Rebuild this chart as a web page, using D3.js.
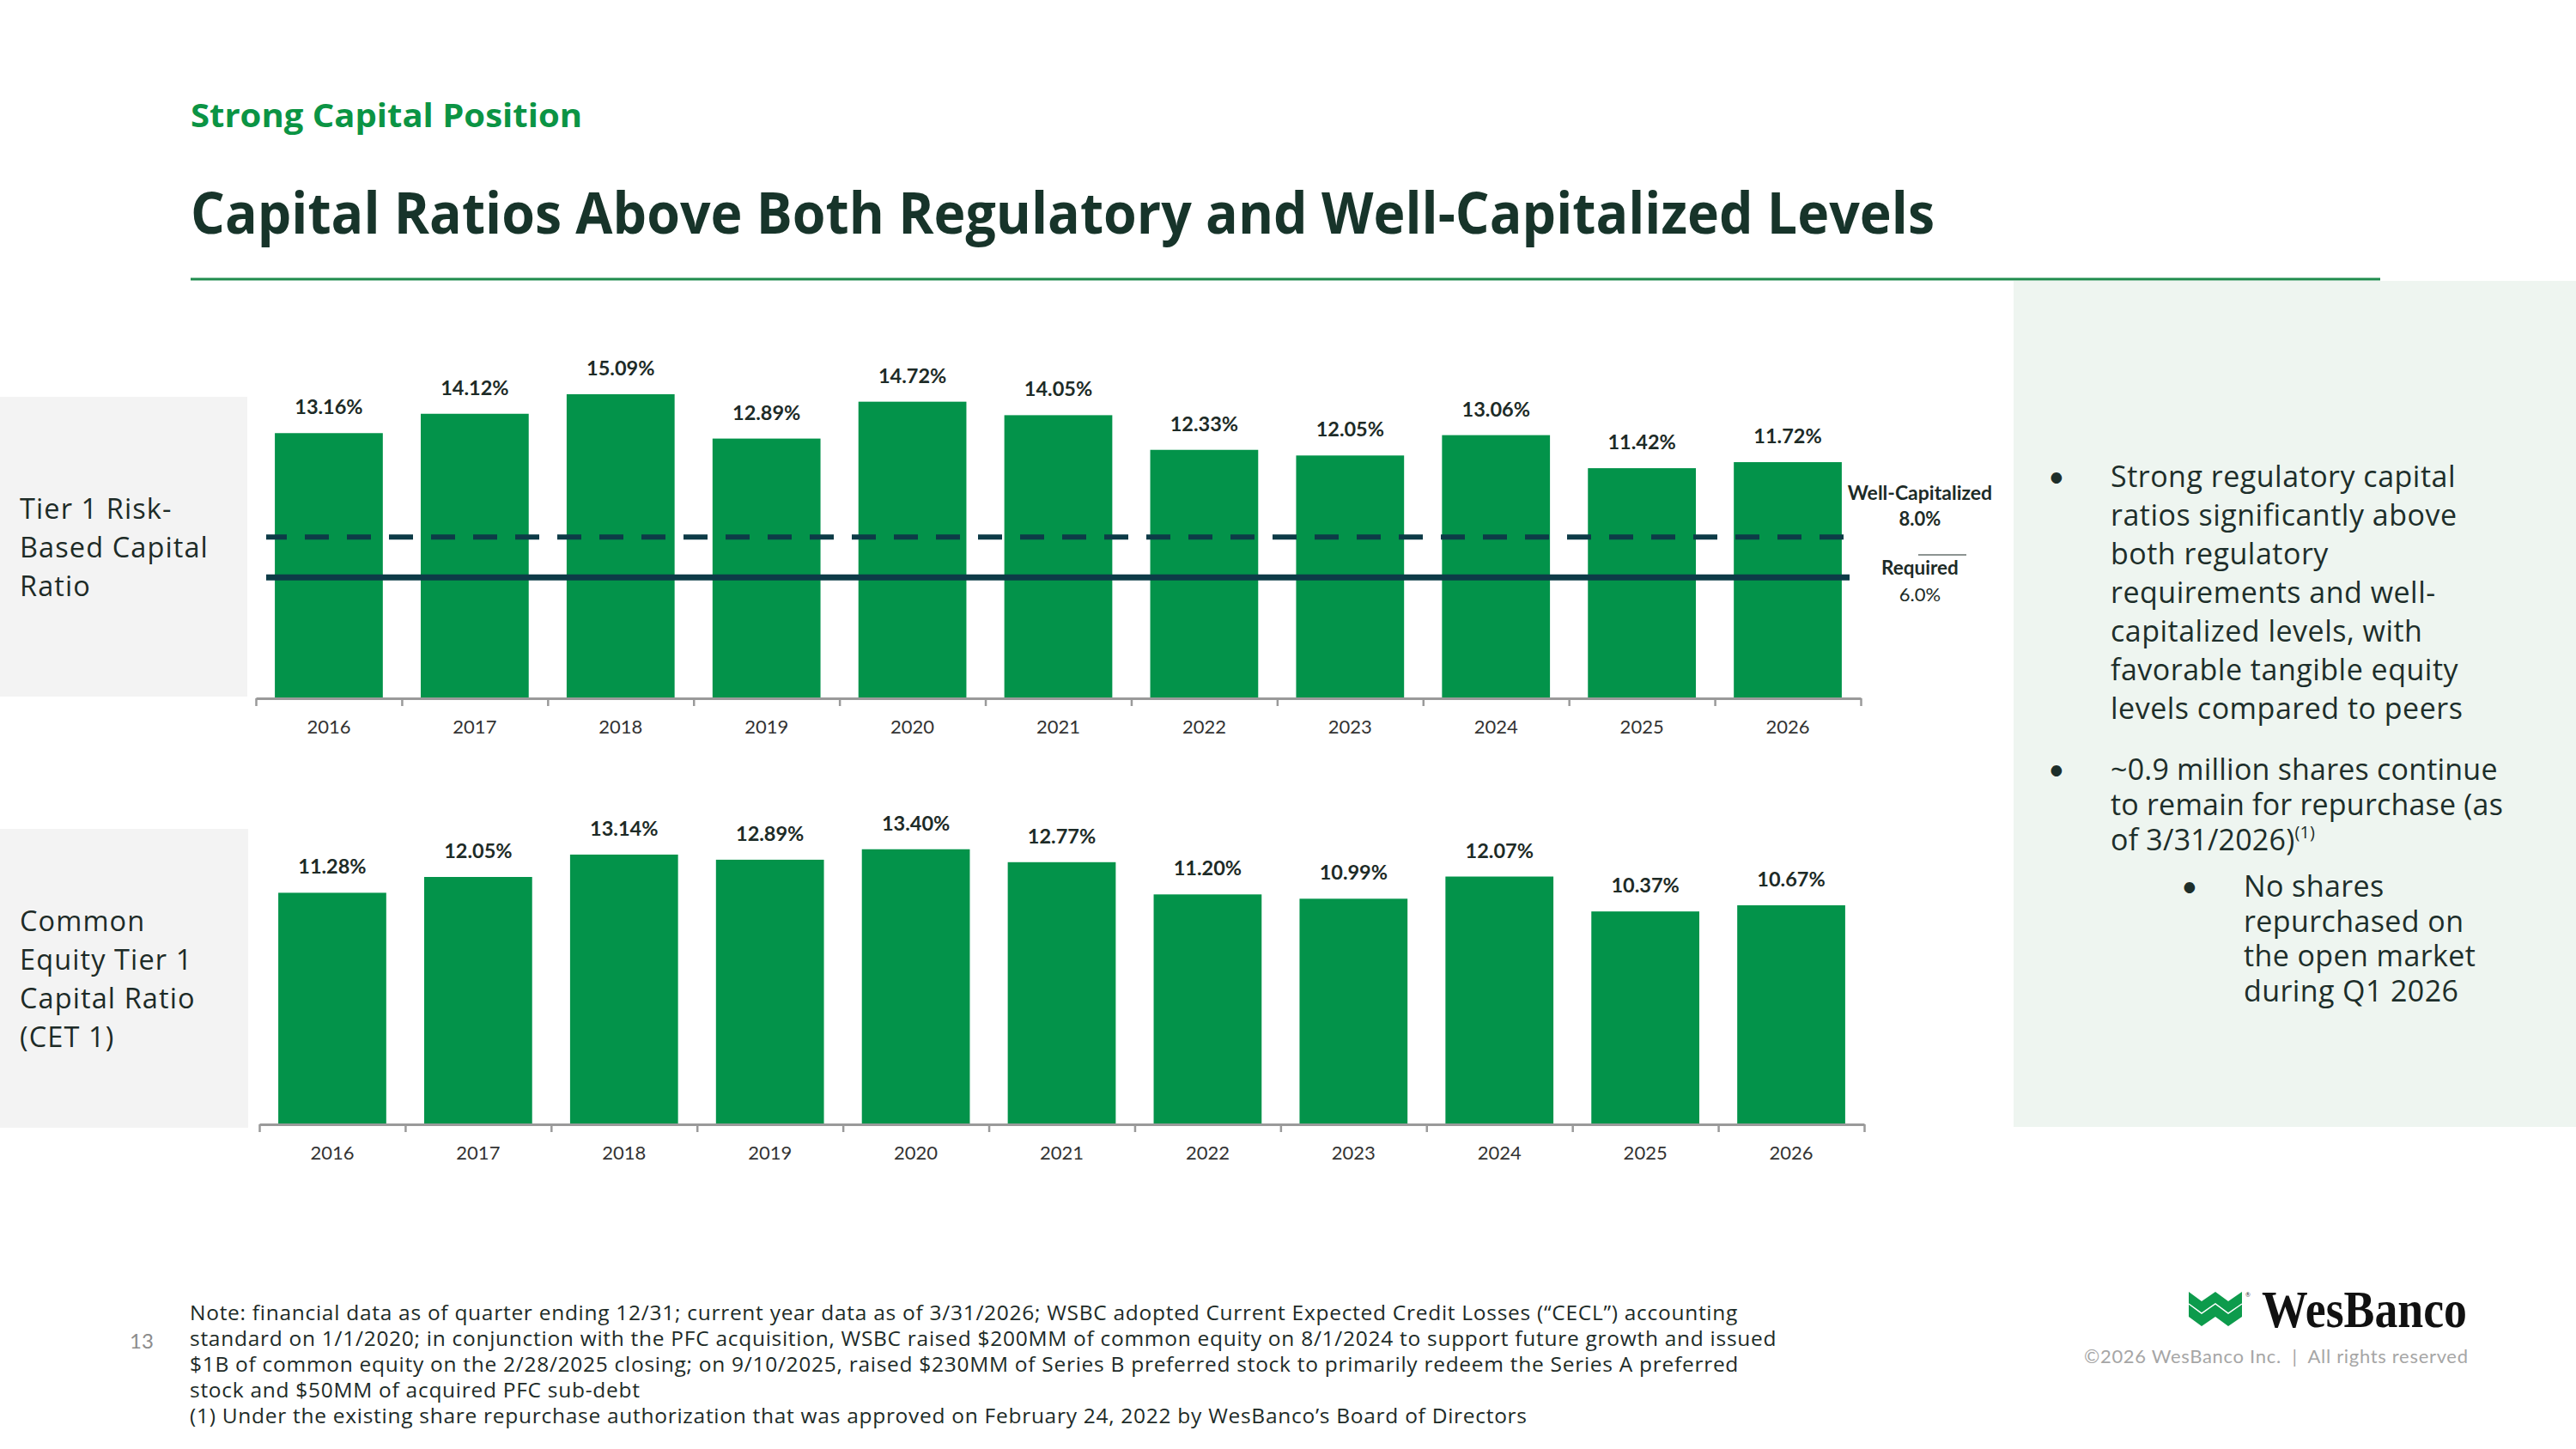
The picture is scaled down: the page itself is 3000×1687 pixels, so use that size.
<!DOCTYPE html>
<html>
<head>
<meta charset="utf-8">
<script src="https://cdn.jsdelivr.net/npm/d3@7"></script>
<style>
  html, body { margin: 0; padding: 0; background: #fff; }
  svg { display: block; }
</style>
</head>
<body>
<div id="chart"></div>
<script>
const W = 3000;
const H = 1687;

// data
const years = ['2016', '2017', '2018', '2019', '2020', '2021', '2022', '2023', '2024', '2025', '2026'];
const tier1Values = [13.16, 14.12, 15.09, 12.89, 14.72, 14.05, 12.33, 12.05, 13.06, 11.42, 11.72];
const cet1Values = [11.28, 12.05, 13.14, 12.89, 13.40, 12.77, 11.20, 10.99, 12.07, 10.37, 10.67];
const wellCapitalized = 8.0;
const required = 6.0;

const green = '#03934a';
const ink = '#1d2b27';
const lineCol = '#0d3b47';
const bodyFont = '"Open Sans", Lato, sans-serif';

const svg = d3.select('#chart').append('svg')
    .attr('width', W)
    .attr('height', H)
    .attr('font-family', 'Lato, "Noto Sans", sans-serif');

svg.append('rect').attr('width', W).attr('height', H).attr('fill', '#fff');

// header
svg.append('text')
    .text('Strong Capital Position')
    .attr('x', 222).attr('y', 148)
    .attr('font-family', '"Open Sans", sans-serif')
    .attr('font-weight', 700)
    .attr('font-size', 38)
    .attr('textLength', 456).attr('lengthAdjust', 'spacingAndGlyphs')
    .attr('fill', '#0b9444');

svg.append('text')
    .text('Capital Ratios Above Both Regulatory and Well-Capitalized Levels')
    .attr('x', 222).attr('y', 272)
    .attr('font-family', '"Open Sans", sans-serif')
    .attr('font-weight', 700)
    .attr('font-size', 66)
    .attr('textLength', 2031).attr('lengthAdjust', 'spacingAndGlyphs')
    .attr('fill', '#17342a');

svg.append('line')
    .attr('x1', 222).attr('x2', 2772)
    .attr('y1', 325).attr('y2', 325)
    .attr('stroke', '#1f8c4e').attr('stroke-width', 3);

// right panel
svg.append('rect')
    .attr('x', 2345).attr('y', 327)
    .attr('width', W - 2345).attr('height', 985)
    .attr('fill', '#eef5f0');

// left grey label boxes
svg.append('rect').attr('x', 0).attr('y', 462).attr('width', 288).attr('height', 349).attr('fill', '#f3f3f3');
svg.append('rect').attr('x', 0).attr('y', 965).attr('width', 289).attr('height', 348).attr('fill', '#f3f3f3');

const addLines = (lines, x, y0, step, size, color, family, spacing) => {
    const t = svg.append('text')
        .attr('font-size', size)
        .attr('fill', color);
    if (family) t.attr('font-family', family);
    if (spacing) t.attr('letter-spacing', spacing);
    lines.forEach((l, i) => {
        t.append('tspan').attr('x', x).attr('y', y0 + i * step).text(l);
    });
    return t;
};

addLines(['Tier 1 Risk-', 'Based Capital', 'Ratio'], 23, 604, 45, 32.5, ink, bodyFont, 1.1);
addLines(['Common', 'Equity Tier 1', 'Capital Ratio', '(CET 1)'], 23, 1084, 45, 32.5, ink, bodyFont, 1.1);

const drawChart = (values, x0, x1, baseY, domainMax, topY) => {
    const x = d3.scaleBand()
        .domain(years)
        .range([x0, x1])
        .paddingInner(0.26)
        .paddingOuter(0.13);

    const y = d3.scaleLinear()
        .domain([0, domainMax])
        .range([baseY, topY]);

    const g = svg.append('g');

    g.selectAll('.bar')
        .data(values)
        .enter()
        .append('rect')
        .attr('class', 'bar')
        .attr('x', (d, i) => x(years[i]))
        .attr('y', d => y(d))
        .attr('width', x.bandwidth())
        .attr('height', d => baseY - y(d))
        .attr('fill', green);

    g.selectAll('.val')
        .data(values)
        .enter()
        .append('text')
        .attr('class', 'val')
        .attr('x', (d, i) => x(years[i]) + x.bandwidth() / 2)
        .attr('y', d => y(d) - 22)
        .attr('text-anchor', 'middle')
        .attr('font-weight', 700)
        .attr('font-size', 23.5)
        .attr('fill', ink)
        .text(d => d.toFixed(2) + '%');

    // tick marks sit between the categories
    const edge = d3.scaleLinear().domain([0, years.length]).range([x0, x1]);
    const tickAxis = d3.axisBottom(edge)
        .tickValues(d3.range(years.length + 1))
        .tickSize(9)
        .tickSizeOuter(0)
        .tickFormat('');

    const ta = g.append('g')
        .attr('transform', `translate(0, ${baseY})`)
        .call(tickAxis);
    ta.select('.domain').attr('stroke', '#9a9a9a').attr('stroke-width', 3);
    ta.selectAll('.tick line').attr('stroke', '#9a9a9a').attr('stroke-width', 2.5);

    const labelAxis = d3.axisBottom(x).tickSize(0).tickPadding(25);
    const la = g.append('g')
        .attr('transform', `translate(0, ${baseY})`)
        .call(labelAxis);
    la.select('.domain').remove();
    la.selectAll('text')
        .attr('font-family', 'Lato, sans-serif')
        .attr('font-size', 22)
        .attr('fill', '#333');

    return { x, y };
};

const c1 = drawChart(tier1Values, 298, 2167, 813, 16, 813 - 16 * 23.46);
drawChart(cet1Values, 302, 2171, 1309, 14, 1309 - 14 * 23.9);

// regulatory reference lines on the first chart
svg.append('line')
    .attr('x1', 310).attr('x2', 2153)
    .attr('y1', c1.y(wellCapitalized)).attr('y2', c1.y(wellCapitalized))
    .attr('stroke', lineCol).attr('stroke-width', 6)
    .attr('stroke-dasharray', '28,21')
    .attr('stroke-dashoffset', 4);

svg.append('line')
    .attr('x1', 310).attr('x2', 2154)
    .attr('y1', c1.y(required)).attr('y2', c1.y(required))
    .attr('stroke', lineCol).attr('stroke-width', 7);

const ann = svg.append('g').attr('text-anchor', 'middle').attr('fill', ink);
ann.append('text').attr('x', 2236).attr('y', 582).attr('font-size', 23).attr('font-weight', 700).text('Well-Capitalized');
ann.append('text').attr('x', 2236).attr('y', 612).attr('font-size', 22).attr('font-weight', 700).text(wellCapitalized.toFixed(1) + '%');
ann.append('line').attr('x1', 2234).attr('x2', 2290).attr('y1', 646).attr('y2', 646).attr('stroke', ink).attr('stroke-width', 1.2);
ann.append('text').attr('x', 2236).attr('y', 669).attr('font-size', 22.5).attr('font-weight', 700).text('Required');
ann.append('text').attr('x', 2236).attr('y', 700).attr('font-size', 22).text(required.toFixed(1) + '%');

// bullets
const bulletInk = '#1d2e2a';
svg.append('text').attr('x', 2385).attr('y', 567).attr('font-size', 34).attr('fill', bulletInk).text('•');
addLines(['Strong regulatory capital', 'ratios significantly above', 'both regulatory',
    'requirements and well-', 'capitalized levels, with', 'favorable tangible equity',
    'levels compared to peers'], 2458, 567, 45, 34, bulletInk, bodyFont, 0.5);

svg.append('text').attr('x', 2385).attr('y', 908).attr('font-size', 34).attr('fill', bulletInk).text('•');
const b2 = addLines(['~0.9 million shares continue', 'to remain for repurchase (as'], 2458, 908, 41, 34, bulletInk, bodyFont, 0.2);
b2.append('tspan').attr('x', 2458).attr('y', 990).text('of 3/31/2026)');
b2.append('tspan').attr('font-size', 20).attr('dy', -14).text('(1)');

svg.append('text').attr('x', 2540).attr('y', 1044).attr('font-size', 34).attr('fill', bulletInk).text('•');
addLines(['No shares', 'repurchased on', 'the open market', 'during Q1 2026'], 2613, 1044, 40.5, 34, bulletInk, bodyFont, 0.4);

// footnotes
addLines([
    'Note: financial data as of quarter ending 12/31; current year data as of 3/31/2026; WSBC adopted Current Expected Credit Losses (“CECL”) accounting',
    'standard on 1/1/2020; in conjunction with the PFC acquisition, WSBC raised $200MM of common equity on 8/1/2024 to support future growth and issued',
    '$1B of common equity on the 2/28/2025 closing; on 9/10/2025, raised $230MM of Series B preferred stock to primarily redeem the Series A preferred',
    'stock and $50MM of acquired PFC sub-debt',
    '(1) Under the existing share repurchase authorization that was approved on February 24, 2022 by WesBanco’s Board of Directors'
], 221, 1537, 30, 24.5, ink, bodyFont, 0.72);

svg.append('text').attr('x', 151).attr('y', 1570).attr('font-size', 24).attr('fill', '#8c8c8c').text('13');

// logo
const logo = svg.append('g').attr('transform', 'translate(2549, 1504)');
logo.append('path')
    .attr('d', 'M0,0 L15,11 L31,0 L46,11 L62,0 L62,29 L46,40 L31,29 L15,40 L0,29 Z')
    .attr('fill', '#0d9b4c');
logo.append('path')
    .attr('d', 'M0,14 L15,25 L31,14 L46,25 L62,14')
    .attr('fill', 'none').attr('stroke', '#fff').attr('stroke-width', 1.5);
logo.append('text').attr('x', 66).attr('y', 6).attr('font-size', 7).attr('fill', '#333').text('®');

svg.append('text')
    .text('WesBanco')
    .attr('x', 2634).attr('y', 1545)
    .attr('font-family', '"Liberation Serif", serif')
    .attr('font-weight', 700)
    .attr('font-size', 62)
    .attr('textLength', 239).attr('lengthAdjust', 'spacingAndGlyphs')
    .attr('fill', '#111');

svg.append('text')
    .text('©2026 WesBanco Inc.  |  All rights reserved')
    .attr('x', 2427).attr('y', 1587)
    .attr('font-size', 22)
    .style('white-space', 'pre')
    .attr('textLength', 447)
    .attr('fill', '#a6a6a6');
</script>
</body>
</html>
